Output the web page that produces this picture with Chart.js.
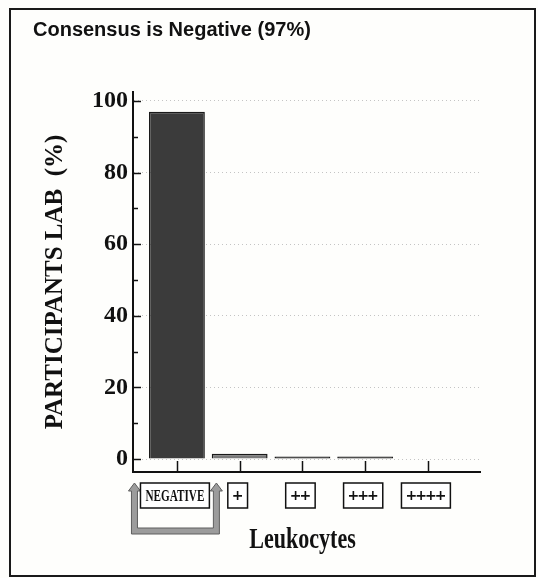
<!DOCTYPE html>
<html><head><meta charset="utf-8">
<script src="https://cdn.jsdelivr.net/npm/chart.js@4.4.1/dist/chart.umd.min.js"></script>
<style>html,body{margin:0;padding:0;background:#fff}#wrap{position:relative;width:538px;height:578px}</style>
</head><body><div id="wrap"><canvas id="c" width="538" height="578"></canvas></div>
<script>
// ---- data ----
const categories = ['NEGATIVE', '+', '++', '+++', '++++'];
const participantsPct = [97, 1.5, 0.7, 0.7, 0];
const yTickValues = [0, 20, 40, 60, 80, 100];
const yMinorStep = 10;
const titleText = 'Consensus is Negative (97%)';
const yTitleText = 'PARTICIPANTS LAB  (%)';
const xTitleText = 'Leukocytes';
const consensusCategory = 'NEGATIVE';

// ---- styling ----
const barFills = ['#3b3b3b', '#7a7a7a', '#111', '#111', '#111'];
const ink = '#111';

const deco = {
  id: 'deco',
  beforeDraw(chart) {
    const ctx = chart.ctx;
    ctx.save();
    ctx.fillStyle = '#fefefc';
    ctx.fillRect(0, 0, chart.width, chart.height);
    ctx.strokeStyle = '#1a1a1a';
    ctx.lineWidth = 2;
    ctx.strokeRect(10, 9, 525, 567);
    ctx.restore();
  },
  afterDraw(chart) {
    const ctx = chart.ctx;
    const xs = chart.scales.x, ys = chart.scales.y;
    const area = chart.chartArea;
    ctx.save();
    // y ticks (inward, major + minor)
    ctx.strokeStyle = ink;
    ctx.lineWidth = 1.5;
    const yMax = yTickValues[yTickValues.length - 1];
    for (let v = 0; v <= yMax; v += yMinorStep) {
      const y = Math.round(ys.getPixelForValue(v)) + 0.5;
      const len = yTickValues.includes(v) ? 8 : 5;
      ctx.beginPath();
      ctx.moveTo(area.left, y);
      ctx.lineTo(area.left + len, y);
      ctx.stroke();
    }
    // x ticks (upward)
    categories.forEach((c, i) => {
      const x = Math.round(xs.getPixelForValue(i)) + 0.5;
      ctx.beginPath();
      ctx.moveTo(x, area.bottom);
      ctx.lineTo(x, area.bottom - 11);
      ctx.stroke();
    });
    // x labels in boxes
    const boxTop = area.bottom + 11;
    const boxH = 25;
    categories.forEach((c, i) => {
      const cx = xs.getPixelForValue(i) - 2;
      const word = /[A-Za-z]/.test(c);
      const sx = word ? 0.7 : 1;
      ctx.font = word ? 'bold 16px "Liberation Serif", serif' : 'bold 14px "DejaVu Sans", sans-serif';
      ctx.letterSpacing = word ? '0px' : '-2px';
      const tw = ctx.measureText(c).width * sx;
      const pad = 5;
      const bw = tw + 2 * pad;
      const bx = cx - bw / 2;
      if (c === consensusCategory) {
        const L = bx - 6, R = bx + bw + 7, T = boxTop, B = boxTop + boxH + 23, w = 3;
        ctx.beginPath();
        ctx.moveTo(L, T); ctx.lineTo(L + 6, T + 8); ctx.lineTo(L + w, T + 8);
        ctx.lineTo(L + w, B - w); ctx.lineTo(R - w, B - w); ctx.lineTo(R - w, T + 8);
        ctx.lineTo(R - 6, T + 8); ctx.lineTo(R, T); ctx.lineTo(R + 6, T + 8);
        ctx.lineTo(R + w, T + 8); ctx.lineTo(R + w, B + w); ctx.lineTo(L - w, B + w);
        ctx.lineTo(L - w, T + 8); ctx.lineTo(L - 6, T + 8); ctx.closePath();
        ctx.fillStyle = '#9c9c9c';
        ctx.fill();
        ctx.strokeStyle = '#5e5e5e';
        ctx.lineWidth = 1;
        ctx.stroke();
      }
      ctx.fillStyle = '#fff';
      ctx.fillRect(bx, boxTop, bw, boxH);
      ctx.strokeStyle = ink;
      ctx.lineWidth = 1.5;
      ctx.strokeRect(bx, boxTop, bw, boxH);
      ctx.save();
      ctx.translate(cx + (word ? 0 : -1), boxTop + boxH / 2 + 1);
      ctx.scale(sx, 1);
      ctx.fillStyle = ink;
      ctx.textAlign = 'center';
      ctx.textBaseline = 'middle';
      ctx.fillText(c, 0, 0);
      ctx.restore();
    });
    ctx.letterSpacing = '0px';
    // x title
    ctx.save();
    ctx.font = 'bold 29px "Liberation Serif", serif';
    ctx.translate((area.left + area.right) / 2 - 4, 548);
    ctx.scale(0.76, 1);
    ctx.fillStyle = ink;
    ctx.textAlign = 'center';
    ctx.textBaseline = 'alphabetic';
    ctx.fillText(xTitleText, 0, 0);
    ctx.restore();
    ctx.restore();
  }
};

const points = categories.map((c, i) => ({ x: i, y: participantsPct[i] }));

new Chart(document.getElementById('c'), {
  type: 'bar',
  data: {
    datasets: [{
      data: points,
      backgroundColor: barFills,
      borderColor: '#1a1a1a',
      borderWidth: 1.5,
      barPercentage: 0.89,
      categoryPercentage: 1
    }]
  },
  options: {
    responsive: false,
    animation: false,
    layout: { padding: { left: 33, right: 58, top: 18, bottom: 0 } },
    plugins: {
      legend: { display: false },
      tooltip: { enabled: false },
      title: {
        display: true, text: titleText, align: 'start', color: ink,
        font: { family: '"Liberation Sans", Arial, sans-serif', size: 20, weight: 'bold' },
        padding: { top: 0, bottom: 50 }
      }
    },
    scales: {
      x: {
        type: 'linear', min: -0.70, max: 4.83, offset: false,
        afterBuildTicks(s) { s.ticks = categories.map((c, i) => ({ value: i })); },
        grid: { display: false, offset: false },
        border: { display: true, color: ink, width: 2 },
        ticks: { display: false },
        afterFit(s) { s.height = 106; }
      },
      y: {
        min: -3.6, max: 102.5,
        afterBuildTicks(s) { s.ticks = yTickValues.map(v => ({ value: v })); },
        grid: { color: '#c4c4c4', lineWidth: 1, drawTicks: false },
        border: { color: ink, width: 2, dash: [1, 3] },
        ticks: { padding: 5, color: ink, font: { family: '"Liberation Serif", serif', size: 24, weight: 'bold' } },
        title: {
          display: true, text: yTitleText, color: ink,
          font: { family: '"Liberation Serif", serif', size: 25, weight: 'bold' },
          padding: { top: 8, bottom: 0 }
        },
        afterFit(s) { s.width = 100; }
      }
    }
  },
  plugins: [deco]
});
</script></body></html>
